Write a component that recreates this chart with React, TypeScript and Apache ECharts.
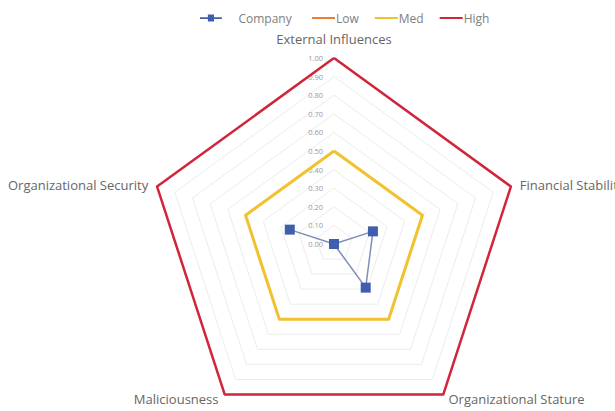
import React, { useEffect, useRef } from "react";
import * as echarts from "echarts";

const indicators = [
  "External Influences",
  "Financial Stability",
  "Organizational Stature",
  "Maliciousness",
  "Organizational Security",
];
const companyValues = [0.0, 0.22, 0.29, 0.0, 0.25];
const lowValues = [0, 0, 0, 0, 0];
const medValues = [0.5, 0.5, 0.5, 0.5, 0.5];
const highValues = [1, 1, 1, 1, 1];
const seriesNames = ["Company", "Low", "Med", "High"];

const FONT = "'Open Sans', 'Liberation Sans', sans-serif";

// ECharts radar places indicators counter-clockwise; reorder to draw clockwise.
const order = [0, 4, 3, 2, 1];
const reorder = <T,>(arr: T[]) => order.map((i) => arr[i]);
// rich style key for each indicator name (same index as indicators)
const nameStyleKeys = ["top", "right", "bright", "bleft", "left"];

export default function App() {
  const ref = useRef<HTMLDivElement>(null);
  useEffect(() => {
    if (!ref.current) return;
    const chart = echarts.init(ref.current, undefined, { renderer: "svg" });
    const nameBase = { color: "#666666", fontSize: 13, fontFamily: FONT };
    chart.setOption({
      animation: false,
      backgroundColor: "#ffffff",
      textStyle: { fontFamily: FONT },
      legend: [
        {
          data: [
            {
              name: seriesNames[0],
              icon: "path://M0,3H9V0H16V3H25V5H16V8H9V5H0Z",
            },
          ],
          left: 195,
          top: 7,
          itemWidth: 25,
          itemHeight: 7,
          textStyle: { color: "#808080", fontSize: 12, fontFamily: FONT, padding: [0, 0, 0, 10] },
        },
        {
          data: seriesNames.slice(1).map((n) => ({ name: n, icon: "path://M0,0H23V2H0Z" })),
          left: 307,
          top: 7,
          itemWidth: 23,
          itemHeight: 2,
          itemGap: 16,
          textStyle: { color: "#808080", fontSize: 12, fontFamily: FONT, padding: [0, 0, 0, -4] },
        },
      ],
      radar: {
        center: [334, 244],
        radius: 186,
        startAngle: 90,
        splitNumber: 10,
        shape: "polygon",
        axisName: {
          ...nameBase,
          formatter: (name: string) => {
            const k = nameStyleKeys[indicators.indexOf(name)];
            return `{${k}|${name}}`;
          },
          rich: {
            top: { ...nameBase, padding: [0, 0, 11, 0] },
            right: { ...nameBase, padding: [0, 0, 2, 7] },
            left: { ...nameBase, padding: [0, 7, 2, 0] },
            bright: { ...nameBase, padding: [5, 0, 0, 4] },
            bleft: { ...nameBase, padding: [5, 5, 0, 0] },
          },
        },
        nameGap: 2,
        axisLine: { show: false },
        axisTick: { show: false },
        splitArea: { show: false },
        splitLine: { lineStyle: { color: "#ececec", width: 1 } },
        axisLabel: { show: false },
        indicator: reorder(indicators).map((name, i) => ({
          name,
          min: 0,
          max: 1,
          ...(i === 0
            ? {
                axisLabel: {
                  show: true,
                  fontSize: 7.5,
                  margin: 11,
                  color: "#9a9a9a",
                  formatter: (v: number) => v.toFixed(2),
                },
              }
            : {}),
        })),
      },
      series: [
        {
          type: "radar",
          data: [
            {
              name: seriesNames[1],
              value: reorder(lowValues),
              symbol: "none",
              itemStyle: { color: "#ED7D31" },
              lineStyle: { color: "#ED7D31", width: 2.5 },
            },
            {
              name: seriesNames[2],
              value: reorder(medValues),
              symbol: "none",
              itemStyle: { color: "#F2C12E" },
              lineStyle: { color: "#F2C12E", width: 3 },
            },
            {
              name: seriesNames[3],
              value: reorder(highValues),
              symbol: "none",
              itemStyle: { color: "#D0253A" },
              lineStyle: { color: "#D0253A", width: 2.5 },
            },
            {
              name: seriesNames[0],
              value: reorder(companyValues),
              symbol: "rect",
              symbolSize: 10,
              itemStyle: { color: "#3F5FAE" },
              lineStyle: { color: "#7F8DB8", width: 1.5 },
            },
          ],
        },
      ],
    });
    return () => chart.dispose();
  }, []);
  return (
    <div
      ref={ref}
      style={{ position: "absolute", left: 0, top: 0, width: 615, height: 411 }}
    />
  );
}
